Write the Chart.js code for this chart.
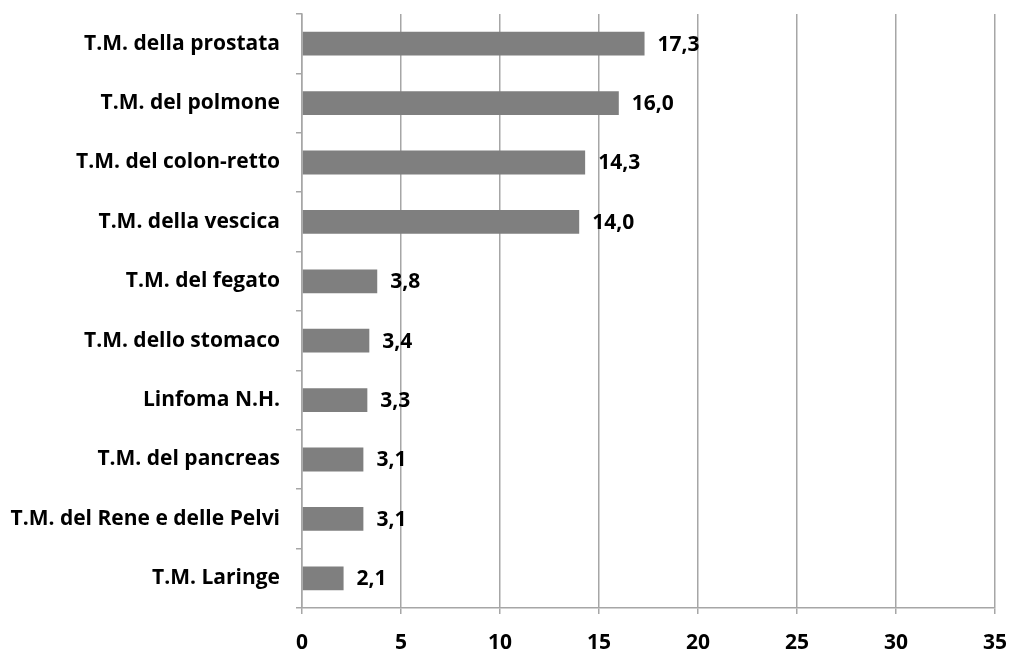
<!DOCTYPE html>
<html><head><meta charset="utf-8">
<script src="https://cdn.jsdelivr.net/npm/chart.js@4/dist/chart.umd.min.js"></script>
<style>html,body{margin:0;padding:0;background:#fff}#w{width:1009px;height:650px}</style>
</head><body><div id="w"><canvas id="c"></canvas></div>
<script>
const categories = ["T.M. della prostata","T.M. del polmone","T.M. del colon-retto","T.M. della vescica","T.M. del fegato","T.M. dello stomaco","Linfoma N.H.","T.M. del pancreas","T.M. del Rene e delle Pelvi","T.M. Laringe"];
const values = [17.3,16.0,14.3,14.0,3.8,3.4,3.3,3.1,3.1,2.1];
const xTicks = [0,5,10,15,20,25,30,35];
const FONT = "'Open Sans', sans-serif";

const labelPlugin = {
  id:'barLabels',
  afterDatasetsDraw(chart){
    const ctx = chart.ctx;
    const meta = chart.getDatasetMeta(0);
    ctx.save();
    ctx.font = "bold 21px " + FONT;
    ctx.fillStyle = '#000';
    ctx.textBaseline = 'middle';
    ctx.textAlign = 'left';
    meta.data.forEach((bar,i)=>{
      ctx.fillText(values[i].toFixed(1).replace('.',','), bar.x + 13, bar.y + 1);
    });
    ctx.restore();
  }
};

new Chart(document.getElementById('c'), {
  type:'bar',
  data:{labels:categories, datasets:[{data:values, backgroundColor:'#7f7f7f', borderWidth:0, categoryPercentage:1.0, barPercentage:0.4}]},
  options:{
    indexAxis:'y', responsive:true, maintainAspectRatio:false, animation:false,
    layout:{padding:{top:14,right:14,left:0,bottom:0}},
    plugins:{legend:{display:false}, tooltip:{enabled:false}},
    scales:{
      x:{min:0,max:35,
        afterBuildTicks(s){ s.ticks = xTicks.map(v=>({value:v})); },
        afterFit(s){ s.height = 42; s.paddingLeft = 0; s.paddingRight = 0; },
        grid:{color:'#a6a6a6', lineWidth:1.5, tickLength:6, drawTicks:true},
        border:{color:'#a6a6a6', width:1.5},
        ticks:{color:'#000', font:{family:FONT, size:21, weight:'bold'}, padding:16, maxRotation:0}
      },
      y:{
        afterFit(s){ s.width = 302; s.paddingTop = 0; s.paddingBottom = 0; },
        grid:{drawOnChartArea:false, color:'#a6a6a6', lineWidth:1.5, tickLength:6, offset:true},
        border:{color:'#a6a6a6', width:1.5},
        ticks:{color:'#000', font:{family:FONT, size:21, weight:'bold'}, padding:16, autoSkip:false}
      }
    }
  },
  plugins:[labelPlugin]
});
</script></body></html>
